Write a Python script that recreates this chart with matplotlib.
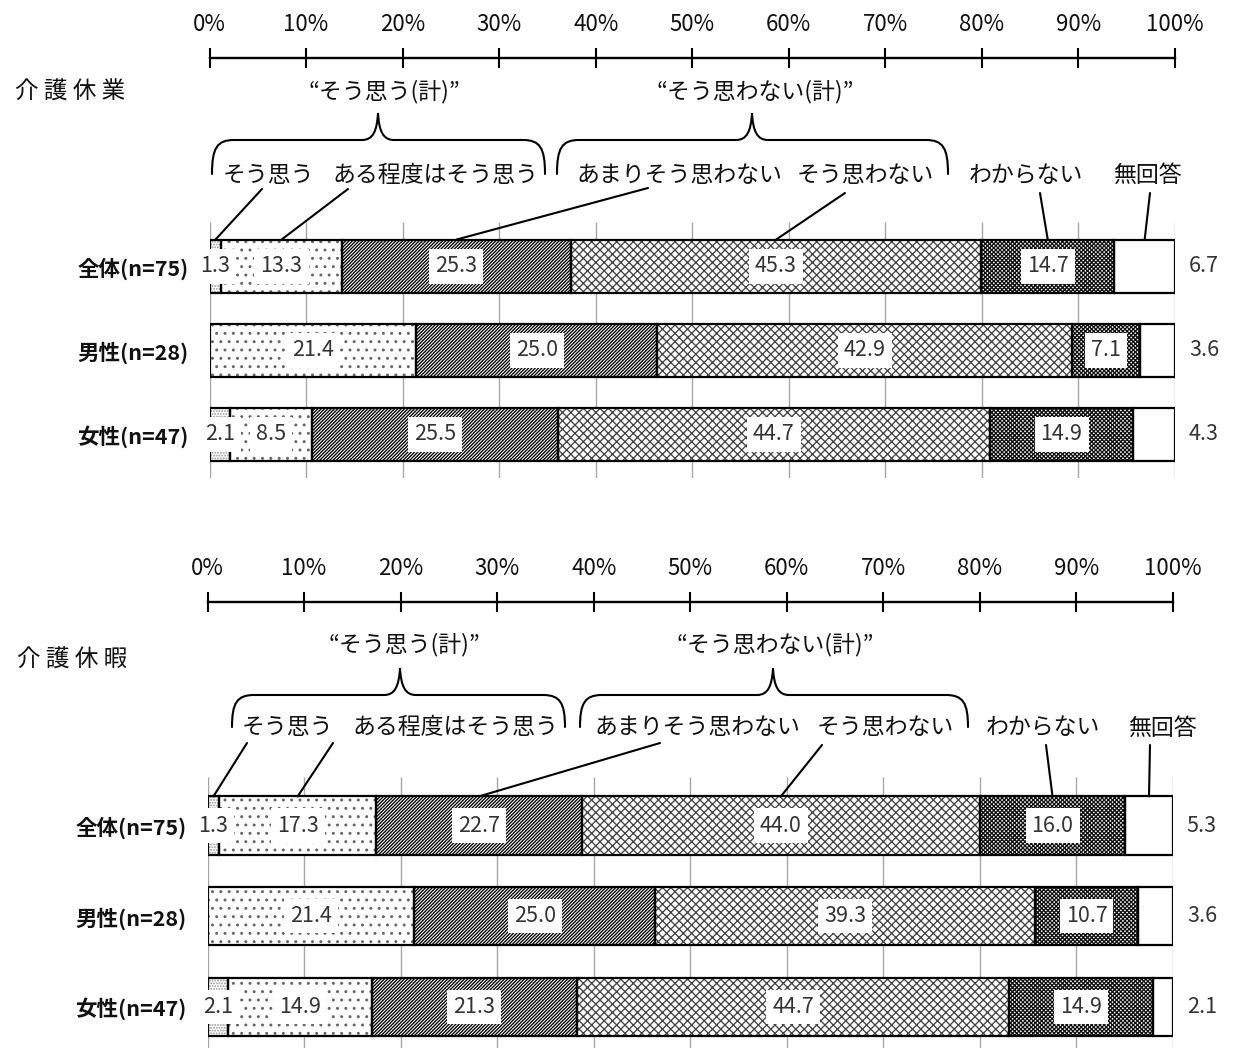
import matplotlib
matplotlib.use("Agg")
import matplotlib.pyplot as plt
from matplotlib.path import Path
from matplotlib.patches import PathPatch

plt.rcParams['font.family'] = ['Noto Sans CJK JP', 'DejaVu Sans']
plt.rcParams['hatch.linewidth'] = 0.95

W, H = 1233, 1051

# ---- data -------------------------------------------------------------
responses = ["そう思う", "ある程度はそう思う", "あまりそう思わない",
             "そう思わない", "わからない", "無回答"]
groups = ["全体(n=75)", "男性(n=28)", "女性(n=47)"]
panel_titles = ["介 護 休 業", "介 護 休 暇"]
agree_total_label = "“そう思う(計)”"
disagree_total_label = "“そう思わない(計)”"
tick_values = [0, 10, 20, 30, 40, 50, 60, 70, 80, 90, 100]
tick_labels = [f"{v}%" for v in tick_values]

kyugyo_all = [1.3, 13.3, 25.3, 45.3, 14.7, 6.7]
kyugyo_male = [0.0, 21.4, 25.0, 42.9, 7.1, 3.6]
kyugyo_female = [2.1, 8.5, 25.5, 44.7, 14.9, 4.3]

kyuka_all = [1.3, 17.3, 22.7, 44.0, 16.0, 5.3]
kyuka_male = [0.0, 21.4, 25.0, 39.3, 10.7, 3.6]
kyuka_female = [2.1, 14.9, 21.3, 44.7, 14.9, 2.1]

# ---- styles -----------------------------------------------------------
# (hatch, hatch colour) for each response
styles = [
    ("......", "#9a9a9a"),
    ("..", "#666666"),
    ("//////////", "#000000"),
    ("xxxx", "#444444"),
    ("xxxxxxxx", "#111111"),
    ("", "black"),
]
text_color = "#333333"
label_color = "#111111"
bar_h = 0.64

# ---- layout (figure pixels, y from top) --------------------------------
panels = [
    dict(title=panel_titles[0], data=[kyugyo_all, kyugyo_male, kyugyo_female],
         ax_left=209.5, ax_right=1175, ax_top=58, ax_bottom=478,
         row0=266.5, row_step=84.0,
         title_xy=(70, 92), quote_y=92, quote_x=(384, 755),
         braces=[(212, 545, 378), (557, 948, 752)],
         brace_y=(140, 113, 174),
         label_y=175, label_x=[268, 435, 679, 865, 1026, 1147],
         leader_from=[(262, 189), (348, 189), (648, 188), (845, 193),
                      (1040, 193), (1150, 193)]),
    dict(title=panel_titles[1], data=[kyuka_all, kyuka_male, kyuka_female],
         ax_left=207.5, ax_right=1173, ax_top=602, ax_bottom=1048,
         row0=825.5, row_step=90.75,
         title_xy=(72, 660), quote_y=645, quote_x=(404, 775),
         braces=[(232, 565, 400), (580, 968, 773)],
         brace_y=(695, 668, 727),
         label_y=728, label_x=[287, 455, 697, 885, 1043, 1162],
         leader_from=[(247, 743), (333, 743), (660, 743), (822, 745),
                      (1046, 745), (1150, 745)]),
]


def ff(x, y):
    """figure pixel (y from top) -> figure fraction"""
    return (x / W, 1 - y / H)


def draw_brace(fig, x0, x1, xt, y_line, y_tip, y_end):
    r = 22
    pts = [
        (x0, y_end),
        (x0, y_line + 8), (x0 + 5, y_line), (x0 + r, y_line),
        (xt - 16, y_line),
        (xt - 5, y_line), (xt - 1, y_line - 9), (xt, y_tip),
        (xt + 1, y_line - 9), (xt + 5, y_line), (xt + 16, y_line),
        (x1 - r, y_line),
        (x1 - 5, y_line), (x1, y_line + 8), (x1, y_end),
    ]
    codes = ([Path.MOVETO] + [Path.CURVE4] * 3 + [Path.LINETO]
             + [Path.CURVE4] * 6 + [Path.LINETO] + [Path.CURVE4] * 3)
    path = Path([ff(x, y) for x, y in pts], codes)
    fig.patches.append(PathPatch(path, fill=False, lw=1.5, ec="black",
                                 transform=fig.transFigure, capstyle="round"))


fig = plt.figure(figsize=(W / 100, H / 100), dpi=100)

for p in panels:
    left, right = p["ax_left"], p["ax_right"]
    top, bottom = p["ax_top"], p["ax_bottom"]
    ax = fig.add_axes([left / W, 1 - bottom / H, (right - left) / W, (bottom - top) / H])
    step = p["row_step"]
    y_top = -(p["row0"] - top) / step
    y_bot = 2 + (bottom - (p["row0"] + 2 * step)) / step
    ax.set_xlim(0, 100)
    ax.set_ylim(y_bot, y_top)
    ax.set_facecolor("none")

    for s in ("left", "right", "bottom"):
        ax.spines[s].set_visible(False)
    ax.spines["top"].set_linewidth(1.7)
    ax.xaxis.tick_top()
    ax.set_xticks(tick_values)
    ax.set_xticklabels(tick_labels, fontsize=16, color=label_color)
    ax.tick_params(axis="x", direction="inout", length=14, width=1.5, pad=9)
    ax.set_yticks(range(len(groups)))
    ax.set_yticklabels(groups, fontsize=15.5, fontweight="bold", color=label_color)
    ax.tick_params(axis="y", length=0, pad=15)

    # vertical grid lines around the bars
    ax.vlines(tick_values, -0.53, y_bot, colors="#a6a6a6", lw=1.0, zorder=0)

    seg_centers_first = []
    for row, vals in enumerate(p["data"]):
        total = sum(vals)
        shares = [v / total * 100 for v in vals]
        start = 0.0
        for k, (v, sh) in enumerate(zip(vals, shares)):
            if v <= 0:
                if row == 0:
                    seg_centers_first.append(start)
                continue
            hatch, hc = styles[k]
            ax.barh(row, sh, left=start, height=bar_h, color="white",
                    hatch=hatch, edgecolor=hc, linewidth=0, zorder=2)
            ax.barh(row, sh, left=start, height=bar_h, fill=False,
                    edgecolor="black", linewidth=1.6, zorder=3)
            cx = start + sh / 2
            if row == 0:
                seg_centers_first.append(cx)
            if k == len(vals) - 1:
                ax.text(103, row, f"{v:.1f}", ha="center", va="center",
                        fontsize=15.5, color=text_color, zorder=5)
            else:
                ax.text(cx, row, f"{v:.1f}", ha="center", va="center",
                        fontsize=15.5, color=text_color, zorder=5,
                        bbox=dict(boxstyle="square,pad=0.28", fc="white", ec="none"))
            start += sh

    # leader lines from the response names to the first row
    for (lx, ly), cx in zip(p["leader_from"], seg_centers_first):
        ax.annotate("", xy=(cx, -bar_h / 2), xycoords="data",
                    xytext=(lx, H - ly), textcoords="figure pixels",
                    arrowprops=dict(arrowstyle="-", lw=1.5, color="black",
                                    shrinkA=0, shrinkB=0), zorder=4)

    # titles and group labels
    fig.text(*ff(*p["title_xy"]), p["title"], ha="center", va="center",
             fontsize=17, color=label_color)
    for qx, qtext in zip(p["quote_x"], [agree_total_label, disagree_total_label]):
        fig.text(*ff(qx, p["quote_y"]), qtext, ha="center", va="center",
                 fontsize=16.5, color=label_color)
    y_line, y_tip, y_end = p["brace_y"]
    for x0, x1, xt in p["braces"]:
        draw_brace(fig, x0, x1, xt, y_line, y_tip, y_end)
    for lx, name in zip(p["label_x"], responses):
        fig.text(*ff(lx, p["label_y"]), name, ha="center", va="center",
                 fontsize=16.5, color=label_color)

fig.savefig("out.png", dpi=100)
